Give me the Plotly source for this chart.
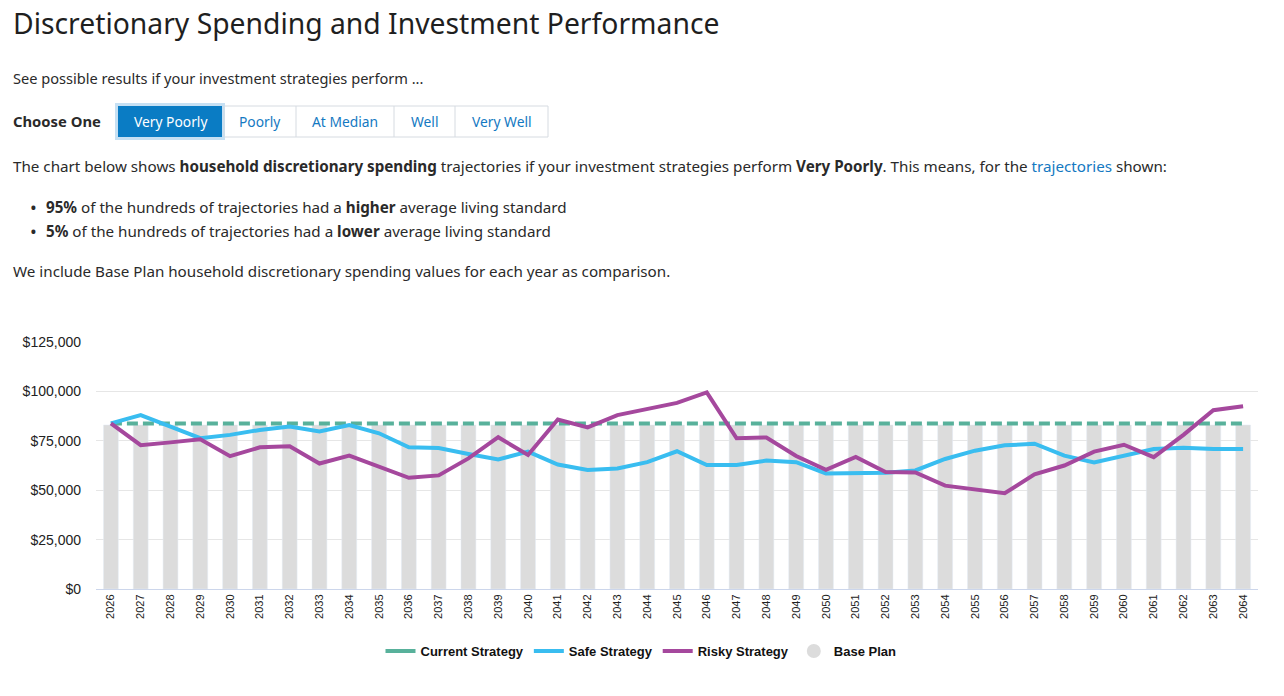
import plotly.graph_objects as go

YEARS = [str(y) for y in range(2026, 2065)]

CURRENT = [83700, 83700, 83700, 83700, 83700, 83700, 83700, 83700, 83700, 83700,
           83700, 83700, 83700, 83700, 83700, 83700, 83700, 83700, 83700, 83700,
           83700, 83700, 83700, 83700, 83700, 83700, 83700, 83700, 83700, 83700,
           83700, 83700, 83700, 83700, 83700, 83700, 83700, 83700, 83700]
BASE_PLAN = [83000, 83000, 83000, 83000, 83000, 83000, 83000, 83000, 83000, 83000,
             83000, 83000, 83000, 83000, 83000, 83000, 83000, 83000, 83000, 83000,
             83000, 83000, 83000, 83000, 83000, 83000, 83000, 83000, 83000, 83000,
             83000, 83000, 83000, 83000, 83000, 83000, 83000, 83000, 83000]
SAFE = [83800, 88000, 82200, 76300, 78000, 80500, 82200, 79700, 83000, 78800,
        71700, 71300, 68300, 65600, 69500, 63000, 60200, 61000, 64200, 69700,
        62700, 62800, 65000, 64200, 58500, 58700, 58800, 60000, 65800, 70000,
        72700, 73500, 67500, 64000, 67500, 70800, 71500, 70800, 70800]
RISKY = [83800, 72800, 74200, 75800, 67200, 71700, 72200, 63500, 67500, 61800,
         56300, 57500, 66100, 76800, 67800, 85800, 81800, 88000, 91300, 94200,
         99500, 76300, 76700, 67300, 60300, 66800, 59200, 59000, 52300, 50300,
         48500, 58000, 62500, 69500, 73000, 66700, 78000, 90500, 92500]

Y_TICKS = [0, 25000, 50000, 75000, 100000, 125000]
Y_TICK_TEXT = ["$0", "$25,000", "$50,000", "$75,000", "$100,000", "$125,000"]

BUTTONS = ["Very Poorly", "Poorly", "At Median", "Well", "Very Well"]
BUTTON_EDGES = [118, 224, 296, 394, 455, 548]   # pixel x edges of the button group

GREEN, BLUE, PURPLE, GREY = "#58b19b", "#39bdf0", "#a5489d", "#dcdcdc"
LINK = "#1479c2"
TEXT = "#2a2a2a"
UI_FONT = "Noto Sans"
CHART_FONT = "Liberation Sans"

W, H = 1284, 696
# plot area in pixels (left, right, top = $125k, zero line)
L, R, T, B = 96, 1258, 342, 589


def px(x):
    return (x - L) / (R - L)


def py(y):
    return (B - y) / (B - T)


fig = go.Figure()

fig.add_trace(go.Bar(x=YEARS, y=BASE_PLAN, name="Base Plan", marker_color=GREY,
                     showlegend=False, hovertemplate="%{x}: $%{y:,.0f}<extra>Base Plan</extra>"))
fig.add_trace(go.Scatter(x=YEARS, y=CURRENT, mode="lines", name="Current Strategy",
                         line=dict(color=GREEN, width=4, dash="11px,5px"), showlegend=False))
fig.add_trace(go.Scatter(x=YEARS, y=SAFE, mode="lines", name="Safe Strategy",
                         line=dict(color=BLUE, width=4), legendrank=2))
fig.add_trace(go.Scatter(x=YEARS, y=RISKY, mode="lines", name="Risky Strategy",
                         line=dict(color=PURPLE, width=4), legendrank=3))
# legend-only entries (solid swatch for the dashed line, circle for the bars)
fig.add_trace(go.Scatter(x=[None], y=[None], mode="lines", name="Current Strategy",
                         line=dict(color=GREEN, width=4), legendrank=1))
fig.add_trace(go.Scatter(x=[None], y=[None], mode="markers", name="Base Plan",
                         marker=dict(color=GREY, size=14, symbol="circle"), legendrank=4))

shapes = []
annotations = []


def text(x, y, s, size=15.2, color=TEXT, xanchor="left", font=UI_FONT):
    annotations.append(dict(x=px(x), y=py(y), xref="paper", yref="paper", text=s,
                            showarrow=False, xanchor=xanchor, yanchor="middle",
                            font=dict(family=font, size=size, color=color)))


text(11, 23, "Discretionary Spending and Investment Performance", size=28.3, color="#1f1f1f")
text(11, 78, "See possible results if your investment strategies perform ...", size=14.6)
text(11, 121, "<b>Choose One</b>", size=14.8)

# button group
shapes.append(dict(type="rect", xref="paper", yref="paper",
                   x0=px(BUTTON_EDGES[0]), x1=px(BUTTON_EDGES[-1]), y0=py(137), y1=py(106),
                   line=dict(color="#d6dbe1", width=1), fillcolor="white", layer="below"))
for i, label in enumerate(BUTTONS):
    x0, x1 = BUTTON_EDGES[i], BUTTON_EDGES[i + 1]
    if i == 0:
        shapes.append(dict(type="rect", xref="paper", yref="paper",
                           x0=px(x0 - 3), x1=px(x1 + 1), y0=py(140), y1=py(103),
                           line=dict(width=0), fillcolor="#c6e0f3"))
        shapes.append(dict(type="rect", xref="paper", yref="paper",
                           x0=px(x0), x1=px(x1 - 2), y0=py(137), y1=py(106),
                           line=dict(width=0), fillcolor="#0a7cc4"))
        text((x0 + x1) / 2, 121, label, size=13.8, color="white", xanchor="center")
    else:
        shapes.append(dict(type="line", xref="paper", yref="paper",
                           x0=px(x0), x1=px(x0), y0=py(137), y1=py(106),
                           line=dict(color="#d6dbe1", width=1)))
        text((x0 + x1) / 2, 121, label, size=13.8, color=LINK, xanchor="center")

text(11, 166, "The chart below shows <b>household discretionary spending</b> trajectories "
              "if your investment strategies perform <b>Very Poorly</b>. This means, for the "
              f"<span style='color:{LINK}'>trajectories</span> shown:")
text(28, 206.5, "•", size=18)
text(44, 207, "<b>95%</b> of the hundreds of trajectories had a <b>higher</b> average living standard")
text(28, 230.5, "•", size=18)
text(44, 231, "<b>5%</b> of the hundreds of trajectories had a <b>lower</b> average living standard")
text(11, 271, "We include Base Plan household discretionary spending values for each year as comparison.")

fig.update_layout(
    width=W, height=H,
    margin=dict(l=L, r=W - R, t=T, b=H - B),
    paper_bgcolor="white", plot_bgcolor="white",
    bargap=0.5,
    showlegend=True,
    legend=dict(orientation="h", xref="container", yref="container",
                x=641 / W, xanchor="center", y=1 - 651 / H, yanchor="middle",
                font=dict(family=CHART_FONT, size=13, color="#111", weight="bold"),
                itemwidth=30, traceorder="normal"),
    xaxis=dict(type="category", tickangle=-90, showgrid=False,
               tickfont=dict(family=CHART_FONT, size=11, color="#222"),
               showline=True, linecolor="#ccd6eb", linewidth=1, ticks=""),
    yaxis=dict(range=[0, 125000], tickvals=Y_TICKS, ticktext=Y_TICK_TEXT,
               gridcolor="#e6e6e6", gridwidth=1, zeroline=False,
               tickfont=dict(family=CHART_FONT, size=14, color="#222"),
               ticklabelstandoff=14),
    shapes=shapes,
    annotations=annotations,
    hovermode="x unified",
)

# drop the default 8px page margin so the figure fills the window exactly
fig.write_html("out.html", config={"displayModeBar": False},
               post_script="document.body.style.margin = '0';")
